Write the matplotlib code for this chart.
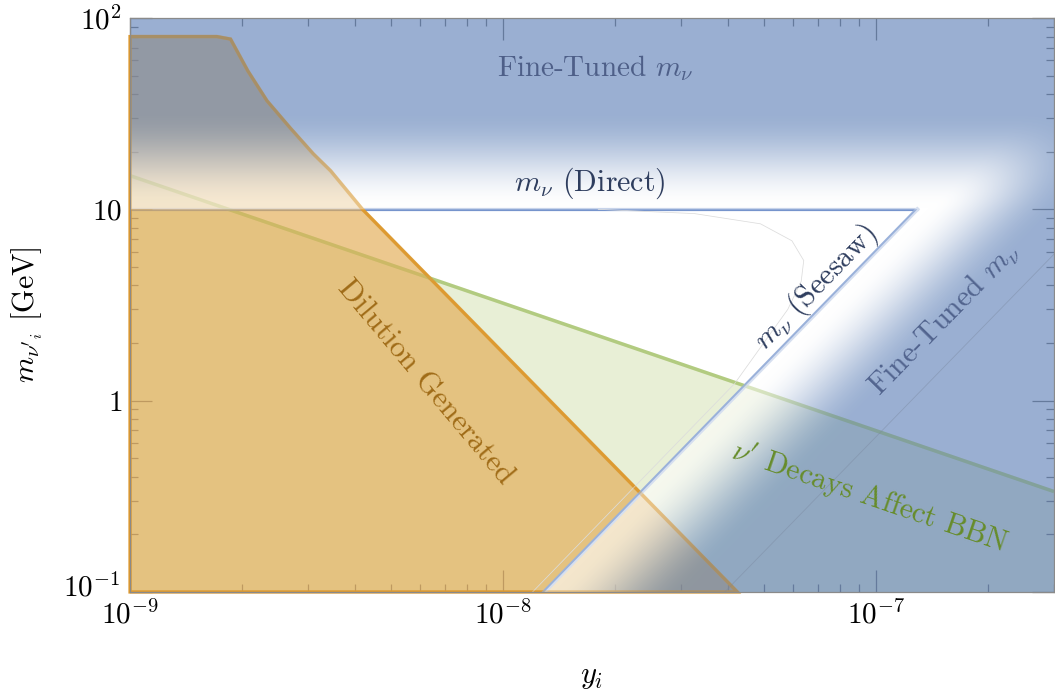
import numpy as np
import matplotlib
matplotlib.use('Agg')
import matplotlib.pyplot as plt
from matplotlib.ticker import FixedLocator, FixedFormatter, LogLocator, NullFormatter
from matplotlib.path import Path
from matplotlib.transforms import ScaledTranslation

plt.rcParams['mathtext.fontset'] = 'cm'
plt.rcParams['font.family'] = ['cmr10', 'DejaVu Serif']
plt.rcParams['axes.formatter.use_mathtext'] = True

# ---------------- data ----------------
x_range = [1e-9, 3e-7]          # y_i
m_range = [0.1, 100.0]          # m_nu' [GeV]

x_ticks = [1e-9, 1e-8, 1e-7]
x_tick_labels = [r'$10^{-9}$', r'$10^{-8}$', r'$10^{-7}$']
m_ticks = [0.1, 1.0, 10.0, 100.0]
m_tick_labels = [r'$10^{-1}$', r'$1$', r'$10$', r'$10^{2}$']

# "Dilution Generated" region boundary
dil_y = [1e-9, 1e-9, 1.71e-9, 1.86e-9, 2.07e-9, 2.33e-9, 2.69e-9, 3.10e-9, 3.45e-9, 4.2e-9, 4.25e-8]
dil_m = [0.1, 80.0, 80.0, 77.6, 52.9, 36.9, 26.6, 19.5, 15.9, 10.0, 0.1]

# "nu' Decays Affect BBN" upper boundary
bbn_y = [1e-9, 3e-7]
bbn_m = [15.0, 0.335]

# m_nu (Direct) bound
direct_m = 10.0

# m_nu (Seesaw) line
seesaw_y = [1.29e-8, 1.29e-7]
seesaw_m = [0.1, 10.0]

# thin fine-tuning contour
ft_y = [3.93e-8, 3.0e-7]
ft_m = [0.1, 5.83]

# thin contour inside allowed region
cont_y = [1.8e-8, 3.26e-8, 4.9e-8, 5.95e-8, 6.4e-8, 6.3e-8, 5.8e-8, 4.18e-8, 1.2e-8]
cont_m = [10.0, 9.5, 8.4, 6.85, 5.4, 4.2, 3.0, 1.23, 0.1]

# ---------------- colours ----------------
blue = np.array([87, 123, 180]) / 255.0
layer_alpha = 0.6
orange_fill = (227/255, 171/255, 82/255, 0.65)
orange_edge = '#e0982a'
green_fill = (190/255, 210/255, 140/255, 0.35)
green_edge = '#b2cb80'

# ---------------- figure ----------------
fig = plt.figure(figsize=(10.55, 6.96), dpi=100)
ax = fig.add_axes([130/1055, 1 - 592/696, 924/1055, 574/696])
ax.set_xscale('log')
ax.set_yscale('log')
ax.set_xlim(x_range)
ax.set_ylim(m_range)
ax.set_autoscale_on(False)

# green BBN region
ax.fill_between(bbn_y, [m_range[0]] * 2, bbn_m, facecolor=green_fill, edgecolor='none', zorder=1)
ax.plot(bbn_y, bbn_m, color=green_edge, lw=2.5, zorder=1.1, solid_capstyle='butt')

# direct line
ax.plot([x_range[0], seesaw_y[1]], [direct_m, direct_m], color='#7694cc', lw=2.3, zorder=1.5)

# orange dilution region
ax.fill(dil_y, dil_m, facecolor=orange_fill, edgecolor=orange_edge, lw=2.3, zorder=2, clip_on=False)

# seesaw line
ax.plot(seesaw_y, seesaw_m, color='#9ab1da', lw=2.9, zorder=2.5)

# thin contour
ax.plot(cont_y, cont_m, color='#dcdcdc', lw=0.55, zorder=2.6)

# ---------------- fine-tuned gradient layer ----------------
W_px, H_px = 924.0, 574.0
lx0, lx1 = np.log10(x_range)
ly0, ly1 = np.log10(m_range)
Px = W_px / (lx1 - lx0)
Py = H_px / (ly1 - ly0)
nx, ny = 1848, 1148
U, V = np.meshgrid(lx0 + (np.arange(nx) + 0.5) / nx * (lx1 - lx0),
                   ly0 + (np.arange(ny) + 0.5) / ny * (ly1 - ly0))
su = np.log10(seesaw_y)
sv = np.log10(seesaw_m)
slope = (sv[1] - sv[0]) / (su[1] - su[0])
u_s = su[0] + (V - sv[0]) / slope
h = (U - u_s) * Px
perp = h * (Py * slope) / np.hypot(Px, Py * slope)
dy = (V - np.log10(direct_m)) * Py
a = np.clip(dy - 2, 0, None) / 96.0
b = np.clip(perp - 8, 0, None) / 92.0
d = np.clip(np.hypot(a, b), 0, 1)
t = d * d * (3 - 2 * d)
img = np.empty((ny, nx, 4))
for k in range(3):
    img[..., k] = (1 - t) + blue[k] * t
img[..., 3] = layer_alpha
im = ax.imshow(img, extent=(0, 1, 0, 1), transform=ax.transAxes, origin='lower',
               aspect='auto', interpolation='bilinear', zorder=3)
verts = [(x_range[0] * 0.5, direct_m), (seesaw_y[1], direct_m), (seesaw_y[0], seesaw_m[0]),
         (x_range[1] * 2, seesaw_m[0] * 0.5), (x_range[1] * 2, m_range[1] * 2),
         (x_range[0] * 0.5, m_range[1] * 2), (x_range[0] * 0.5, direct_m)]
clip = Path(verts, closed=True)
im.set_clip_path(clip, transform=ax.transData)

# edges re-drawn faintly on top of the layer
ax.fill(dil_y, dil_m, facecolor='none', edgecolor='#d9a040', lw=2.6, alpha=0.35, zorder=3.2)
ax.plot(bbn_y, bbn_m, color=green_edge, lw=2.5, alpha=0.15, zorder=3.2)
ax.plot(ft_y, ft_m, color='#7a889f', lw=0.6, alpha=0.45, zorder=3.3)

# ---------------- labels ----------------
fs = 21.5
ax.text(1.77e-8, 55, r'Fine-Tuned $m_\nu$', fontsize=21, color='#4e5f88', ha='center', va='center', zorder=5)
ax.text(1.71e-8, 13.6, r'$m_\nu$ (Direct)', fontsize=fs, color='#2e3d5e', ha='center', va='center', zorder=5)
ax.text(6.9e-8, 3.9, r'$m_\nu$ (Seesaw)', fontsize=fs, color='#2e3d5e', ha='center', va='center',
        rotation=45.7, rotation_mode='anchor', zorder=5)
ax.text(1.52e-7, 2.68, r'Fine-Tuned $m_\nu$', fontsize=fs, color='#52648e', ha='center', va='center',
        rotation=45.7, rotation_mode='anchor', zorder=5)
ax.text(6.18e-9, 1.24, 'Dilution Generated', fontsize=22, color='#a06c18', ha='center', va='center',
        rotation=-50, rotation_mode='anchor', zorder=5)
ax.text(9.63e-8, 0.311, r"$\nu'$ Decays Affect BBN", fontsize=fs, color='#668c2a', ha='center', va='center',
        rotation=-19, rotation_mode='anchor', zorder=5)

# ---------------- axes styling ----------------
ax.xaxis.set_major_locator(FixedLocator(x_ticks))
ax.xaxis.set_major_formatter(FixedFormatter(x_tick_labels))
ax.yaxis.set_major_locator(FixedLocator(m_ticks))
ax.yaxis.set_major_formatter(FixedFormatter(m_tick_labels))
for axis in (ax.xaxis, ax.yaxis):
    axis.set_minor_locator(LogLocator(base=10, subs=np.arange(2, 10) * 1.0, numticks=100))
    axis.set_minor_formatter(NullFormatter())
ax.tick_params(which='both', direction='in', top=True, right=True, color='#7a7a7a', width=0.9)
ax.tick_params(which='major', length=15.8, labelsize=21, pad=5.8)
ax.tick_params(which='minor', length=5.8)
for sp in ax.spines.values():
    sp.set_color('#8a8a8a')
    sp.set_linewidth(0.9)
    sp.set_zorder(6)

# raise the lowest y tick label slightly (as in the reference)
yt0 = ax.yaxis.get_major_ticks()[0]
yt0.label1.set_transform(yt0.label1.get_transform() + ScaledTranslation(-2/100, 7/100, fig.dpi_scale_trans))

ax.set_xlabel(r'$y_i$', fontsize=22)
ax.xaxis.set_label_coords(0.5, -0.125)
ax.set_ylabel(r"$m_{\nu'_i}$ [GeV]", fontsize=21.5)
ax.yaxis.set_label_coords(-0.092, 0.483)

fig.savefig('out.png', dpi=100)
